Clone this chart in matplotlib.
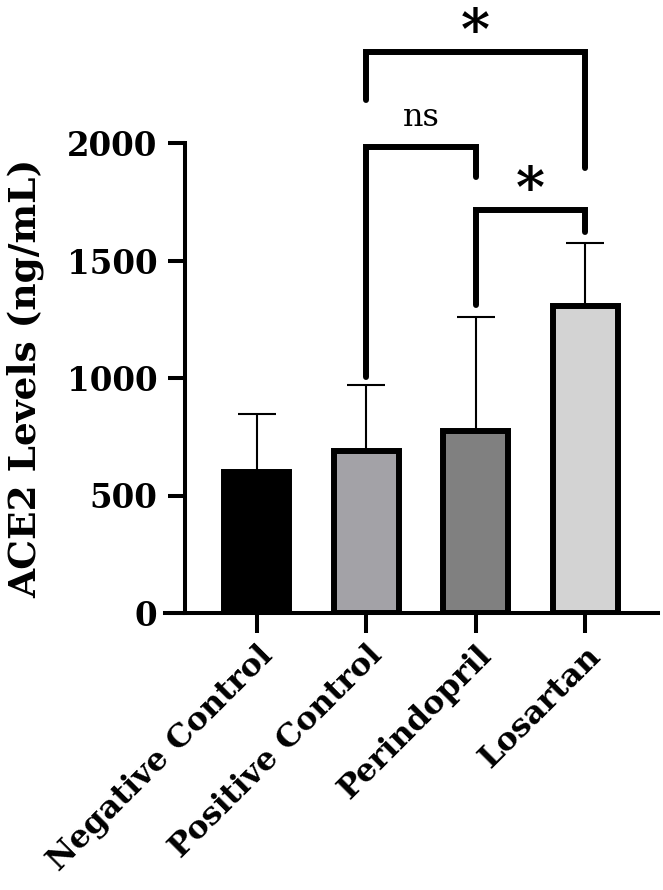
import matplotlib
matplotlib.use('Agg')
import matplotlib.pyplot as plt
import numpy as np

# ---- data ----
categories = ['Negative Control', 'Positive Control', 'Perindopril', 'Losartan']
means = [600, 690, 775, 1305]
err_up = [247, 280, 485, 270]
bar_colors = ['#000000', '#A3A2A7', '#808080', '#D3D3D3']
yticks = [0, 500, 1000, 1500, 2000]

# significance brackets
comp_left = [1, 1, 2]
comp_right = [3, 2, 3]
comp_y = [2387, 1983, 1715]
leg_left_end = [2183, 1004, 1311]
leg_right_end = [1894, 1855, 1621]
comp_labels = ['*', 'ns', '*']

# ---- figure ----
W, H = 663, 890
fig = plt.figure(figsize=(W / 100, H / 100), dpi=100)
ax_left, ax_right, ax_top, ax_bot = 165, 658, 143, 613
ax = fig.add_axes([ax_left / W, (H - ax_bot) / H, (ax_right - ax_left) / W, (ax_bot - ax_top) / H])

x = np.arange(len(categories))
ax.bar(x, means, width=0.594, color=bar_colors, edgecolor='black', linewidth=4.3, zorder=3)
ax.errorbar(x, means, yerr=[np.zeros(len(means)), err_up], fmt='none', ecolor='black',
            elinewidth=1.5, capsize=13.7, capthick=1.5, zorder=2)

ax.set_xlim(-0.84, 3.667)
ax.set_ylim(0, 2000)

for s in ['top', 'right']:
    ax.spines[s].set_visible(False)
ax.spines['left'].set_position(('data', -0.658))
ax.spines['left'].set_bounds(0, 2000)
ax.spines['left'].set_linewidth(2.9)
ax.spines['bottom'].set_linewidth(2.9)

ax.set_yticks(yticks)
ax.set_yticklabels([str(v) for v in yticks], fontfamily='DejaVu Serif', fontweight='bold', fontsize=23.5)
ax.tick_params(axis='y', direction='out', length=12, width=2.9, pad=8)
ax.tick_params(axis='x', direction='out', length=14.4, width=2.9, pad=5)
ax.set_xticks(x)
ax.set_xticklabels(categories, rotation=45, ha='right', va='top', rotation_mode='anchor',
                   fontfamily='DejaVu Serif', fontweight='bold', fontsize=23)

ax.set_ylabel('ACE2 Levels (ng/mL)', fontfamily='DejaVu Serif', fontweight='bold', fontsize=27)
ax.yaxis.set_label_coords(-0.245, 0.5)

for xl, xr, y, ll, lr, lab in zip(comp_left, comp_right, comp_y, leg_left_end, leg_right_end, comp_labels):
    ax.plot([xl, xl, xr, xr], [ll, y, y, lr], color='black', lw=4.3,
            solid_capstyle='round', solid_joinstyle='miter', clip_on=False, zorder=4)
    xm = (xl + xr) / 2
    if lab == '*':
        ax.text(xm, y - 40, lab, ha='center', va='bottom', fontsize=40,
                fontfamily='DejaVu Serif', fontweight='bold', clip_on=False)
    else:
        ax.text(xm, y + 60, lab, ha='center', va='bottom', fontsize=23,
                fontfamily='DejaVu Serif', clip_on=False)

fig.savefig('out.png', dpi=100)
